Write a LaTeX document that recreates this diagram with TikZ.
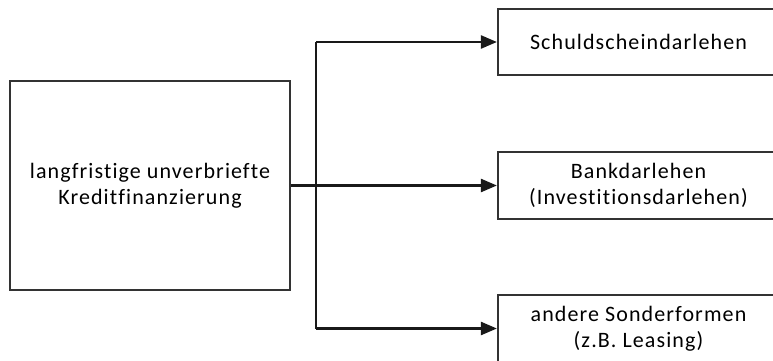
\documentclass[tikz,border=0pt]{standalone}
\usepackage{fontspec}
\setmainfont[LetterSpace=5,Ligatures=NoCommon]{Carlito}
\usetikzlibrary{arrows.meta}

\begin{document}
\begin{tikzpicture}[x=1pt,y=-1pt,
    box/.style={draw=black!80,line width=2.2pt,fill=white,inner sep=0pt,align=center,
      font=\fontsize{22}{26}\selectfont},
    link/.style={draw=black!90,line width=2.4pt},
    pfeil/.style={link,-{Triangle[length=16pt,width=13pt]}}]
      \useasboundingbox (0,0) rectangle (773,361);
      \clip (0,0) rectangle (773,361);

      \draw (150,185.5) node (src) [box,minimum width=280pt,minimum height=209pt] {langfristige unverbriefte\\Kreditfinanzierung};
      \draw (638.5,42) node (schuld) [box,minimum width=281pt,minimum height=66pt] {Schuldscheindarlehen};
      \draw (638.5,185.5) node (bank) [box,minimum width=281pt,minimum height=67pt] {Bankdarlehen\\(Investitionsdarlehen)};
      \draw (638.5,328.5) node (sonder) [box,minimum width=281pt,minimum height=67pt] {andere Sonderformen\\(z.B. Leasing)};

      \coordinate (fork) at (316,185.5);
      \draw [link] (src.east) -- (fork);
      \draw [link] (fork |- schuld.west) -- (fork |- sonder.west);
      \draw [pfeil] (fork |- schuld.west) -- (schuld.west);
      \draw [pfeil] (fork) -- (bank.west);
      \draw [pfeil] (fork |- sonder.west) -- (sonder.west);
    \end{tikzpicture}
\end{document}
